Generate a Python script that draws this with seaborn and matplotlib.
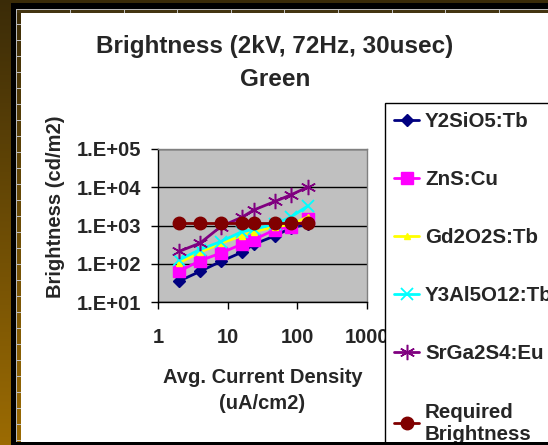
import numpy as np
import matplotlib
matplotlib.use("Agg")
import matplotlib.pyplot as plt
import seaborn as sns
from matplotlib.ticker import FixedLocator, NullLocator
from matplotlib.patches import Rectangle

# ---------------- data ----------------
current_density = [2, 4, 8, 16, 24, 48, 80, 140]
y2sio5_tb = [35, 63, 115, 200, 325, 540, 850, 1100]
zns_cu = [63, 120, 190, 325, 430, 780, 930, 1500]
gd2o2s_tb = [105, 200, 345, 540, 690, 930, 1050, 1650]
y3al5o12_tb = [125, 235, 380, 690, 800, 1100, 1650, 3200]
srga2s4_eu = [210, 345, 940, 1650, 2570, 4270, 6300, 10000]
required_brightness = [1150, 1150, 1150, 1150, 1150, 1150, 1150, 1150]

series_names = ["Y2SiO5:Tb", "ZnS:Cu", "Gd2O2S:Tb", "Y3Al5O12:Tb",
                "SrGa2S4:Eu", "Required\nBrightness"]
series_values = [y2sio5_tb, zns_cu, gd2o2s_tb, y3al5o12_tb, srga2s4_eu,
                 required_brightness]
x_tick_values = [1, 10, 100, 1000]
x_tick_labels = ["1", "10", "100", "1000"]
y_tick_values = [1e1, 1e2, 1e3, 1e4, 1e5]
y_tick_labels = ["1.E+01", "1.E+02", "1.E+03", "1.E+04", "1.E+05"]

title_line1 = "Brightness (2kV, 72Hz, 30usec)"
title_line2 = "Green"
x_label = "Avg. Current Density\n(uA/cm2)"
y_label = "Brightness (cd/m2)"

# ---------------- styles ----------------
styles = [
    dict(color="#000080", marker="D", markersize=6.5, mec="#000080"),
    dict(color="#FF00FF", marker="s", markersize=8, mec="#FF00FF"),
    dict(color="#FFFF00", marker="^", markersize=5, mec="#FFFF00"),
    dict(color="#00FFFF", marker="x", markersize=8, mec="#00FFFF", mew=1.3),
    dict(color="#800080", marker=(6, 2, 0), markersize=11, mec="#800080", mew=1.1),
    dict(color="#800000", marker="o", markersize=9, mec="#800000"),
]

sns.set_theme(style="white")
plt.rcParams["font.family"] = ["Liberation Sans", "DejaVu Sans"]
plt.rcParams["font.weight"] = "bold"

W, H = 548, 445
fig = plt.figure(figsize=(W / 100, H / 100), dpi=100)
fig.patch.set_facecolor("white")

# ---------------- slide background / frame ----------------
img = np.ones((H, W, 3))
t = np.linspace(0, 1, H)[:, None]
dark = np.array([0.23, 0.17, 0.03])
gold = np.array([0.61, 0.42, 0.01])
grad = dark + (gold - dark) * t  # H x 3
img[:, 0:11, :] = grad[:, None, :]
img[0:3, :, :] = dark
img[3:, 11:16, :] = 0.0
img[3:9, 11:, :] = 0.0
img[9:, 16:17, :] = 0.72
img[9:10, 16:, :] = 0.72
img[10:, 17:21, :] = grad[10:, None, :]
img[10:13, 17:, :] = dark + 0.04
for yy in range(24, H, 16):
    img[yy:yy + 1, 17:21, :] = 0.75
for k in range(9):
    xx = int(round(70 + k * 53.6))
    if xx < W:
        img[10:13, xx:xx + 1, :] = 0.75
img[442:, 11:, :] = 0.0
fig.figimage(img[::-1], xo=0, yo=0, origin="lower", zorder=-10)

# ---------------- axes ----------------
ax = fig.add_axes([158 / W, 1 - 302 / H, (367 - 158) / W, (302 - 149) / H])
ax.set_facecolor("#C0C0C0")

for name, vals, st in zip(series_names, series_values, styles):
    sns.lineplot(x=current_density, y=vals, ax=ax, label=name,
                 color=st["color"], marker=st["marker"],
                 markersize=st["markersize"], markeredgecolor=st["mec"],
                 markeredgewidth=st.get("mew", 1.0), linewidth=2.0,
                 errorbar=None, sort=False)

ax.set_xscale("log")
ax.set_yscale("log")
ax.set_xlim(1, 1000)
ax.set_ylim(10, 1e5)
ax.xaxis.set_major_locator(FixedLocator(x_tick_values))
ax.xaxis.set_minor_locator(NullLocator())
ax.yaxis.set_major_locator(FixedLocator(y_tick_values))
ax.yaxis.set_minor_locator(NullLocator())
ax.set_xticklabels(x_tick_labels, fontsize=14.5, fontweight="bold")
ax.set_yticklabels(y_tick_labels, fontsize=14.5, fontweight="bold")
ax.tick_params(axis="x", direction="out", length=5, width=1, color="black",
               pad=14, bottom=True)
ax.tick_params(axis="y", direction="out", length=5, width=1, color="black",
               pad=7, left=True)
ax.grid(axis="y", color="black", linewidth=1)
ax.grid(axis="x", visible=False)
ax.set_axisbelow(True)
for side in ["left", "bottom"]:
    ax.spines[side].set_color("black")
    ax.spines[side].set_linewidth(1)
for side in ["top", "right"]:
    ax.spines[side].set_color("#808080")
    ax.spines[side].set_linewidth(1)

ax.set_xlabel(x_label, fontsize=14.5, fontweight="bold", linespacing=1.5)
ax.xaxis.set_label_coords(0.5, -0.43)
ax.xaxis.label.set_verticalalignment("top")
ax.set_ylabel(y_label, fontsize=14.5, fontweight="bold")
ax.yaxis.set_label_coords(-0.445, 0.62)

fig.text(275 / W, 1 - 46 / H, title_line1, ha="center", va="center",
         fontsize=17.5, fontweight="bold")
fig.text(275 / W, 1 - 80 / H, title_line2, ha="center", va="center",
         fontsize=17.5, fontweight="bold")

handles, labels = ax.get_legend_handles_labels()
ax.get_legend().remove()
leg = fig.legend(handles, labels, loc="upper left",
                 bbox_to_anchor=(385 / W, 1 - 103 / H, 220 / W, 0),
                 mode="expand", borderaxespad=0,
                 frameon=True, fancybox=False, edgecolor="black",
                 facecolor="white", framealpha=1,
                 prop=dict(size=14.8, weight="bold"),
                 handlelength=1.2, handletextpad=0.3, borderpad=0.45,
                 labelspacing=1.9)
leg.get_frame().set_linewidth(1)
leg.set_zorder(5)

# bottom frame line of the slide drawn over the legend
fig.patches.append(Rectangle((11 / W, 0), 1 - 11 / W, 3 / H,
                             transform=fig.transFigure, facecolor="black",
                             edgecolor="none", zorder=20))

fig.savefig("out.png", dpi=100)
